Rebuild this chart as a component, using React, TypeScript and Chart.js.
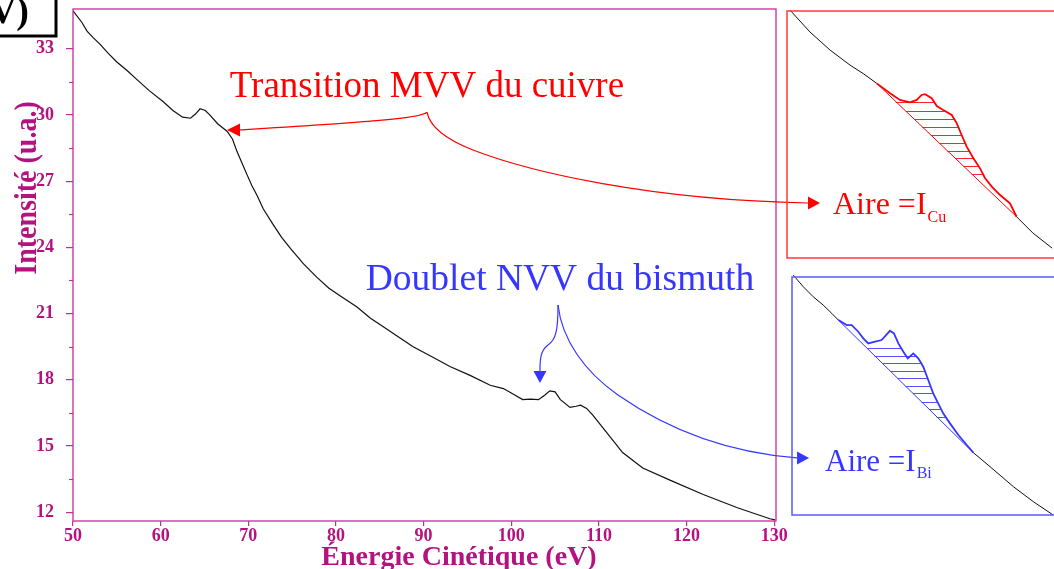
import React, { useEffect, useRef } from "react";
import { Chart, registerables } from "chart.js";

Chart.register(...registerables);

const FONT = "'Liberation Serif', 'Times New Roman', serif";
const AXIS_COLOR = "#c8299b";
const LABEL_COLOR = "#b3127f";
const RED = "#ff0000";
const RED_BOX = "#ff3a3a";
const BLUE = "#3636ff";
const BLUE_BOX = "#5a5aff";

// ---- main spectrum (eV, u.a.) ----
const energyEV = [50.0, 51.0, 51.6, 52.3, 53.1, 54.0, 55.0, 56.2, 57.3, 58.7, 60.3, 61.4, 62.5, 63.4, 64.0, 64.5, 65.1, 65.6, 66.5, 67.6, 68.2, 68.7, 69.3, 69.9, 70.4, 71.0, 71.7, 72.8, 73.8, 74.8, 76.3, 77.8, 79.2, 80.5, 82.4, 83.9, 85.4, 87.1, 88.8, 90.9, 93.0, 95.3, 97.6, 99.1, 100.2, 101.3, 102.2, 103.1, 103.8, 104.4, 105.0, 105.6, 106.7, 107.4, 107.9, 108.6, 109.3, 110.3, 111.3, 112.7, 115.0, 118.1, 121.9, 125.8, 129.5, 130.1];
const intensityUA = [34.72, 34.2, 33.8, 33.5, 33.2, 32.8, 32.4, 32.0, 31.6, 31.1, 30.6, 30.2, 29.9, 29.85, 30.05, 30.28, 30.2, 30.0, 29.6, 29.25, 28.9, 28.35, 27.8, 27.25, 26.8, 26.35, 25.75, 25.05, 24.45, 23.95, 23.25, 22.65, 22.15, 21.8, 21.3, 20.8, 20.4, 19.95, 19.5, 19.05, 18.6, 18.2, 17.75, 17.6, 17.35, 17.1, 17.12, 17.1, 17.3, 17.5, 17.45, 17.1, 16.75, 16.8, 16.85, 16.7, 16.4, 15.9, 15.4, 14.7, 14.0, 13.45, 12.8, 12.2, 11.7, 11.65];

const xTickValues = [50, 60, 70, 80, 90, 100, 110, 120, 130];
const yTickValues = [12, 15, 18, 21, 24, 27, 30, 33];
const yMinorTickValues = [13.5, 16.5, 19.5, 22.5, 25.5, 28.5, 31.5];

// ---- copper inset (relative units 0..100) ----
const cuInsetX = [1.1, 8.6, 16.1, 23.6, 28.5, 33.6, 38.6, 42.3, 46.1, 48.6, 50.4, 51.7, 54.2, 56.1, 58.5, 61.7, 63.6, 65.4, 67.3, 69.8, 72.3, 74.2, 76.7, 79.8, 83.5, 86.0, 92.1, 99.3];
const cuInsetY = [100.4, 91.5, 84.2, 78.1, 74.7, 70.7, 66.7, 64.0, 63.0, 64.0, 66.0, 66.3, 64.7, 61.5, 59.9, 57.9, 54.5, 49.8, 45.1, 40.4, 36.3, 32.3, 28.9, 25.5, 22.1, 16.7, 10.1, 4.0];
const cuPeakRange = [5, 25];
const cuHatchLevels = [63.3, 59.5, 56.1, 53.1, 49.8, 46.4, 43.4, 40.4, 37.2, 34.0];

// ---- bismuth inset (relative units 0..100) ----
const biInsetX = [0.5, 4.3, 8.1, 11.9, 15.2, 17.7, 20.9, 22.8, 25.3, 27.2, 29.1, 31.7, 34.2, 35.9, 37.4, 38.9, 40.6, 42.5, 44.2, 46.3, 48.2, 50.1, 52.0, 53.9, 55.8, 57.7, 60.3, 63.5, 66.7, 69.2, 75.6, 84.5, 92.1, 99.7];
const biInsetY = [100.8, 95.9, 91.7, 88.2, 84.7, 81.9, 79.8, 79.8, 77.0, 74.2, 72.1, 72.8, 73.5, 75.6, 77.4, 76.3, 72.1, 68.6, 65.8, 67.9, 65.8, 62.3, 56.7, 51.1, 46.9, 42.7, 38.5, 33.6, 29.4, 26.2, 20.3, 11.9, 5.6, 0.0];
const biPeakRange = [5, 29];
const biHatchLevels = [70.0, 66.9, 63.7, 60.5, 57.4, 54.2, 51.1, 47.6, 44.5, 41.3];

// ---- callouts, in main-chart data units (eV, u.a.) ----
const cuTitle = "Transition MVV du cuivre";
const cuTitlePos = [90.38, 30.81];
const cuCalloutStart = [90.38, 30.13];
const cuCalloutLeft = [[89.81, 29.82], [81.6, 29.63], [69.05, 29.32]];
const cuCalloutLeftTip = [67.57, 29.32];
const cuCalloutRight = [[90.73, 29.41], [92.78, 28.86], [95.63, 28.41], [102.13, 27.41], [115.82, 26.15], [133.85, 26.01]];
const cuCalloutRightTip = [135.22, 26.01];
const cuAreaPos = [136.7, 25.51];

const biTitle = "Doublet NVV du bismuth";
const biTitlePos = [105.56, 22.07];
const biCalloutStart = [105.33, 21.39];
const biCalloutLeft = [[105.33, 20.26], [105.1, 19.8], [104.19, 19.58], [103.39, 19.35], [103.27, 18.99], [103.27, 18.4]];
const biCalloutLeftTip = [103.27, 17.85];
const biCalloutRight = [[105.78, 19.8], [108.41, 18.35], [112.17, 17.31], [116.96, 15.99], [123.81, 14.73], [132.6, 14.46]];
const biCalloutRightTip = [133.97, 14.46];
const biAreaPos = [135.79, 13.87];

const areaText = "Aire =I";
const cuSub = "Cu";
const biSub = "Bi";
const xTitle = "Énergie Cinétique (eV)";
const yTitle = "Intensité (u.a.)";
const cornerText = "V)";

function drawCallout(ctx: CanvasRenderingContext2D, P: (p: number[]) => number[], start: number[], segs: number[][], tip: number[], color: string) {
  ctx.save();
  ctx.strokeStyle = color;
  ctx.fillStyle = color;
  ctx.lineWidth = 1.2;
  ctx.beginPath();
  const s = P(start);
  ctx.moveTo(s[0], s[1]);
  let last = s;
  for (let i = 0; i + 2 < segs.length; i += 3) {
    const c1 = P(segs[i]);
    const c2 = P(segs[i + 1]);
    const e = P(segs[i + 2]);
    ctx.bezierCurveTo(c1[0], c1[1], c2[0], c2[1], e[0], e[1]);
    last = e;
  }
  ctx.stroke();
  const t = P(tip);
  const dx = t[0] - last[0];
  const dy = t[1] - last[1];
  const len = Math.hypot(dx, dy) || 1;
  const ux = dx / len, uy = dy / len;
  const hw = 6.5;
  ctx.beginPath();
  ctx.moveTo(t[0], t[1]);
  ctx.lineTo(last[0] - uy * hw, last[1] + ux * hw);
  ctx.lineTo(last[0] + uy * hw, last[1] - ux * hw);
  ctx.closePath();
  ctx.fill();
  ctx.restore();
}

function drawArea(ctx: CanvasRenderingContext2D, p: number[], sub: string, color: string, size: number, subSize: number, subDrop: number) {
  ctx.save();
  ctx.fillStyle = color;
  ctx.textAlign = "left";
  ctx.textBaseline = "alphabetic";
  ctx.font = `${size}px ${FONT}`;
  ctx.fillText(areaText, p[0], p[1]);
  const w = ctx.measureText(areaText).width;
  ctx.font = `${subSize}px ${FONT}`;
  ctx.fillText(sub, p[0] + w + 1, p[1] + subDrop);
  ctx.restore();
}

const mainDecor = {
  id: "mainDecor",
  afterDraw(chart: any) {
    const { ctx, chartArea: a, scales } = chart;
    const sx = scales.x, sy = scales.y;
    const P = (p: number[]) => [sx.getPixelForValue(p[0]), sy.getPixelForValue(p[1])];
    ctx.save();
    // frame
    ctx.strokeStyle = AXIS_COLOR;
    ctx.lineWidth = 1.3;
    ctx.strokeRect(a.left, a.top, a.right - a.left, a.bottom - a.top);
    // minor y ticks
    ctx.lineWidth = 1.1;
    for (const v of yMinorTickValues) {
      const py = Math.round(sy.getPixelForValue(v)) + 0.5;
      ctx.beginPath();
      ctx.moveTo(a.left - 4, py);
      ctx.lineTo(a.left, py);
      ctx.stroke();
    }
    // axis titles
    ctx.fillStyle = LABEL_COLOR;
    ctx.font = `bold 28px ${FONT}`;
    ctx.textAlign = "center";
    ctx.textBaseline = "alphabetic";
    ctx.fillText(xTitle, 459, 565);
    ctx.save();
    ctx.translate(36, 188);
    ctx.rotate(-Math.PI / 2);
    ctx.scale(1, 1.1);
    ctx.fillText(yTitle, 0, 0);
    ctx.restore();

    // corner box
    ctx.strokeStyle = "#000";
    ctx.lineWidth = 3;
    ctx.strokeRect(-10, -10, 66, 46);
    ctx.fillStyle = "#000";
    ctx.font = `bold 38px ${FONT}`;
    ctx.textAlign = "right";
    ctx.fillText(cornerText, 29, 23);

    // callout titles
    ctx.textAlign = "center";
    ctx.font = `37px ${FONT}`;
    ctx.fillStyle = RED;
    const ct = P(cuTitlePos);
    ctx.fillText(cuTitle, ct[0], ct[1]);
    ctx.fillStyle = BLUE;
    ctx.font = `37.5px ${FONT}`;
    const bt = P(biTitlePos);
    ctx.fillText(biTitle, bt[0], bt[1]);
    ctx.restore();

    drawCallout(ctx, P, cuCalloutStart, cuCalloutLeft, cuCalloutLeftTip, RED);
    drawCallout(ctx, P, cuCalloutStart, cuCalloutRight, cuCalloutRightTip, RED);
    drawCallout(ctx, P, biCalloutStart, biCalloutLeft, biCalloutLeftTip, BLUE);
    drawCallout(ctx, P, biCalloutStart, biCalloutRight, biCalloutRightTip, BLUE);

    drawArea(ctx, P(cuAreaPos), cuSub, RED, 32, 16, 8);
    drawArea(ctx, P(biAreaPos), biSub, BLUE, 31, 16, 7);
  },
};

function mainConfig(): any {
  return {
    type: "line",
    data: {
      datasets: [
        {
          data: energyEV.map((x, i) => ({ x, y: intensityUA[i] })),
          borderColor: "#111",
          borderWidth: 1.2,
          pointRadius: 0,
          tension: 0,
        },
      ],
    },
    options: {
      responsive: false,
      animation: false,
      devicePixelRatio: 1,
      events: [],
      layout: { padding: { left: 0, top: 9, right: 278, bottom: 0 } },
      plugins: { legend: { display: false }, tooltip: { enabled: false } },
      scales: {
        x: {
          type: "linear",
          min: 50,
          max: 130.2,
          afterBuildTicks: (s: any) => {
            s.ticks = xTickValues.map((v) => ({ value: v }));
          },
          afterFit: (s: any) => {
            s.height = 48;
            s.paddingLeft = 0;
            s.paddingRight = 0;
          },
          border: { display: false },
          grid: { drawOnChartArea: false, drawTicks: true, tickLength: 5, color: AXIS_COLOR, lineWidth: 1.2 },
          ticks: {
            color: LABEL_COLOR,
            font: { family: FONT, size: 18, weight: "bold" },
            padding: 0,
            maxRotation: 0,
            autoSkip: false,
          },
        },
        y: {
          type: "linear",
          min: 11.6,
          max: 34.8,
          afterBuildTicks: (s: any) => {
            s.ticks = yTickValues.map((v) => ({ value: v }));
          },
          afterFit: (s: any) => {
            s.width = 73;
            s.paddingTop = 0;
            s.paddingBottom = 0;
          },
          border: { display: false },
          grid: { drawOnChartArea: false, drawTicks: true, tickLength: 7, color: AXIS_COLOR, lineWidth: 1.2 },
          ticks: {
            color: LABEL_COLOR,
            font: { family: FONT, size: 18, weight: "bold" },
            padding: 12,
            autoSkip: false,
          },
        },
      },
    },
    plugins: [mainDecor],
  };
}

function insetConfig(xs: number[], ys: number[], range: number[], levels: number[], color: string, boxColor: string): any {
  const [from, to] = range;
  const inPeak = (c: any) => c.p0DataIndex >= from && c.p1DataIndex <= to;
  const decor = {
    id: "insetDecor",
    beforeDatasetsDraw(chart: any) {
      const { ctx, scales } = chart;
      const sx = scales.x, sy = scales.y;
      ctx.save();
      ctx.strokeStyle = color;
      ctx.globalAlpha = 0.85;
      ctx.lineWidth = 1;
      for (const L of levels) {
        const xb = xs[from] + ((ys[from] - L) / (ys[from] - ys[to])) * (xs[to] - xs[from]);
        let xc = xb;
        for (let i = to - 1; i >= from; i--) {
          if ((ys[i] - L) * (ys[i + 1] - L) <= 0 && ys[i] !== ys[i + 1]) {
            xc = xs[i] + ((L - ys[i]) / (ys[i + 1] - ys[i])) * (xs[i + 1] - xs[i]);
            break;
          }
        }
        const py = Math.round(sy.getPixelForValue(L)) + 0.5;
        ctx.beginPath();
        ctx.moveTo(sx.getPixelForValue(xb), py);
        ctx.lineTo(sx.getPixelForValue(xc), py);
        ctx.stroke();
      }
      ctx.restore();
    },
    afterDraw(chart: any) {
      const { ctx, chartArea: a } = chart;
      ctx.save();
      ctx.strokeStyle = boxColor;
      ctx.lineWidth = 1.5;
      ctx.strokeRect(a.left, a.top, a.right - a.left + 6, a.bottom - a.top);
      ctx.restore();
    },
  };
  return {
    type: "line",
    data: {
      datasets: [
        {
          data: xs.map((x, i) => ({ x, y: ys[i] })),
          borderColor: "#111",
          borderWidth: 1,
          pointRadius: 0,
          clip: false,
          segment: {
            borderColor: (c: any) => (inPeak(c) ? color : "#111"),
            borderWidth: (c: any) => (inPeak(c) ? 1.8 : 1),
          },
        },
        {
          data: [
            { x: xs[from], y: ys[from] },
            { x: xs[to], y: ys[to] },
          ],
          borderColor: color,
          borderWidth: 1,
          pointRadius: 0,
          clip: false,
        },
      ],
    },
    options: {
      responsive: false,
      animation: false,
      devicePixelRatio: 1,
      events: [],
      layout: { padding: { left: 2, top: 2, bottom: 2, right: 0 } },
      plugins: { legend: { display: false }, tooltip: { enabled: false } },
      scales: {
        x: { type: "linear", min: 0, max: 100, display: false },
        y: { type: "linear", min: 0, max: 100, display: false },
      },
    },
    plugins: [decor],
  };
}

export default function App() {
  const mainRef = useRef<HTMLCanvasElement>(null);
  const cuRef = useRef<HTMLCanvasElement>(null);
  const biRef = useRef<HTMLCanvasElement>(null);

  useEffect(() => {
    const charts: Chart[] = [];
    if (mainRef.current) charts.push(new Chart(mainRef.current, mainConfig()));
    if (cuRef.current) charts.push(new Chart(cuRef.current, insetConfig(cuInsetX, cuInsetY, cuPeakRange, cuHatchLevels, RED, RED_BOX)));
    if (biRef.current) charts.push(new Chart(biRef.current, insetConfig(biInsetX, biInsetY, biPeakRange, biHatchLevels, BLUE, BLUE_BOX)));
    return () => charts.forEach((c) => c.destroy());
  }, []);

  return (
    <div style={{ position: "fixed", left: 0, top: 0, width: 1054, height: 569, background: "#fff", overflow: "hidden" }}>
      <canvas ref={mainRef} width={1054} height={569} style={{ position: "absolute", left: 0, top: 0, width: 1054, height: 569 }} />
      <canvas ref={cuRef} width={269} height={251} style={{ position: "absolute", left: 785, top: 9, width: 269, height: 251 }} />
      <canvas ref={biRef} width={264} height={242} style={{ position: "absolute", left: 790, top: 275, width: 264, height: 242 }} />
    </div>
  );
}
